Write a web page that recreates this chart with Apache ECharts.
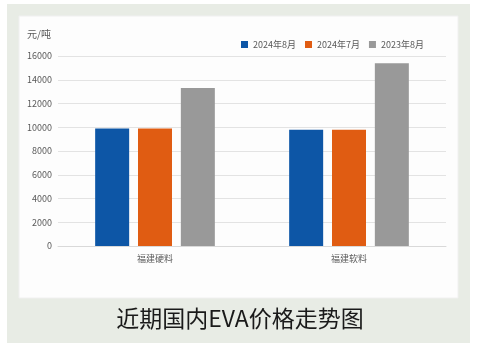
<!DOCTYPE html>
<html>
<head>
<meta charset="utf-8">
<script src="https://cdn.jsdelivr.net/npm/echarts@6/dist/echarts.min.js"></script>
<style>
  html, body { margin: 0; padding: 0; background: #fff; }
  #main { width: 480px; height: 353px; }
</style>
</head>
<body>
<div id="main"></div>
<script>
const categories = ['福建硬料', '福建软料']
const seriesNames = ['2024年8月', '2024年7月', '2023年8月']
const aug2024 = [9900, 9800]
const jul2024 = [9900, 9800]
const aug2023 = [13300, 15400]
const colors = ['#0d56a6', '#e05c12', '#999999']

const chart = echarts.init(document.getElementById('main'))
const font = '"Noto Sans CJK SC", "Noto Sans", sans-serif'

const mkBar = (name, data, i) => ({
  name: name,
  type: 'bar',
  data: data,
  barWidth: 34,
  barGap: '26%',
  itemStyle: { color: colors[i] },
})

chart.setOption({
  animation: false,
  textStyle: { fontFamily: font },
  graphic: [
    { type: 'rect', z: -10, shape: { x: 7, y: 4, width: 463, height: 339 }, style: { fill: '#e8ece5' } },
    { type: 'rect', z: -9, shape: { x: 19, y: 16, width: 439, height: 282 }, style: { fill: '#fdfdfd', stroke: '#f0f0f0' } },
    { type: 'text', left: 27, top: 29, style: { text: '元/吨', fontSize: 10, fill: '#595959', fontFamily: font } },
    { type: 'text', left: 'center', top: 307, style: { text: '近期国内EVA价格走势图', fontSize: 23, fill: '#1a1a1a', fontFamily: font } },
  ],
  legend: {
    left: 241,
    top: 40,
    padding: 0,
    itemWidth: 7,
    itemHeight: 7,
    itemGap: 9,
    icon: 'rect',
    textStyle: { fontSize: 9, color: '#595959', fontFamily: font },
    data: seriesNames,
  },
  grid: { left: 58, right: 34, top: 56, bottom: 107 },
  xAxis: {
    type: 'category',
    data: categories,
    axisLine: { lineStyle: { color: '#d9d9d9' } },
    axisTick: { show: false },
    axisLabel: { fontSize: 9, color: '#595959', margin: 8 },
  },
  yAxis: {
    type: 'value',
    min: 0,
    max: 16000,
    interval: 2000,
    axisLine: { show: false },
    axisTick: { show: false },
    axisLabel: { fontSize: 9, color: '#595959', margin: 6, formatter: (v) => String(v) },
    splitLine: { lineStyle: { color: '#e3e3e3' } },
  },
  series: [
    mkBar(seriesNames[0], aug2024, 0),
    mkBar(seriesNames[1], jul2024, 1),
    mkBar(seriesNames[2], aug2023, 2),
  ],
})
</script>
</body>
</html>
